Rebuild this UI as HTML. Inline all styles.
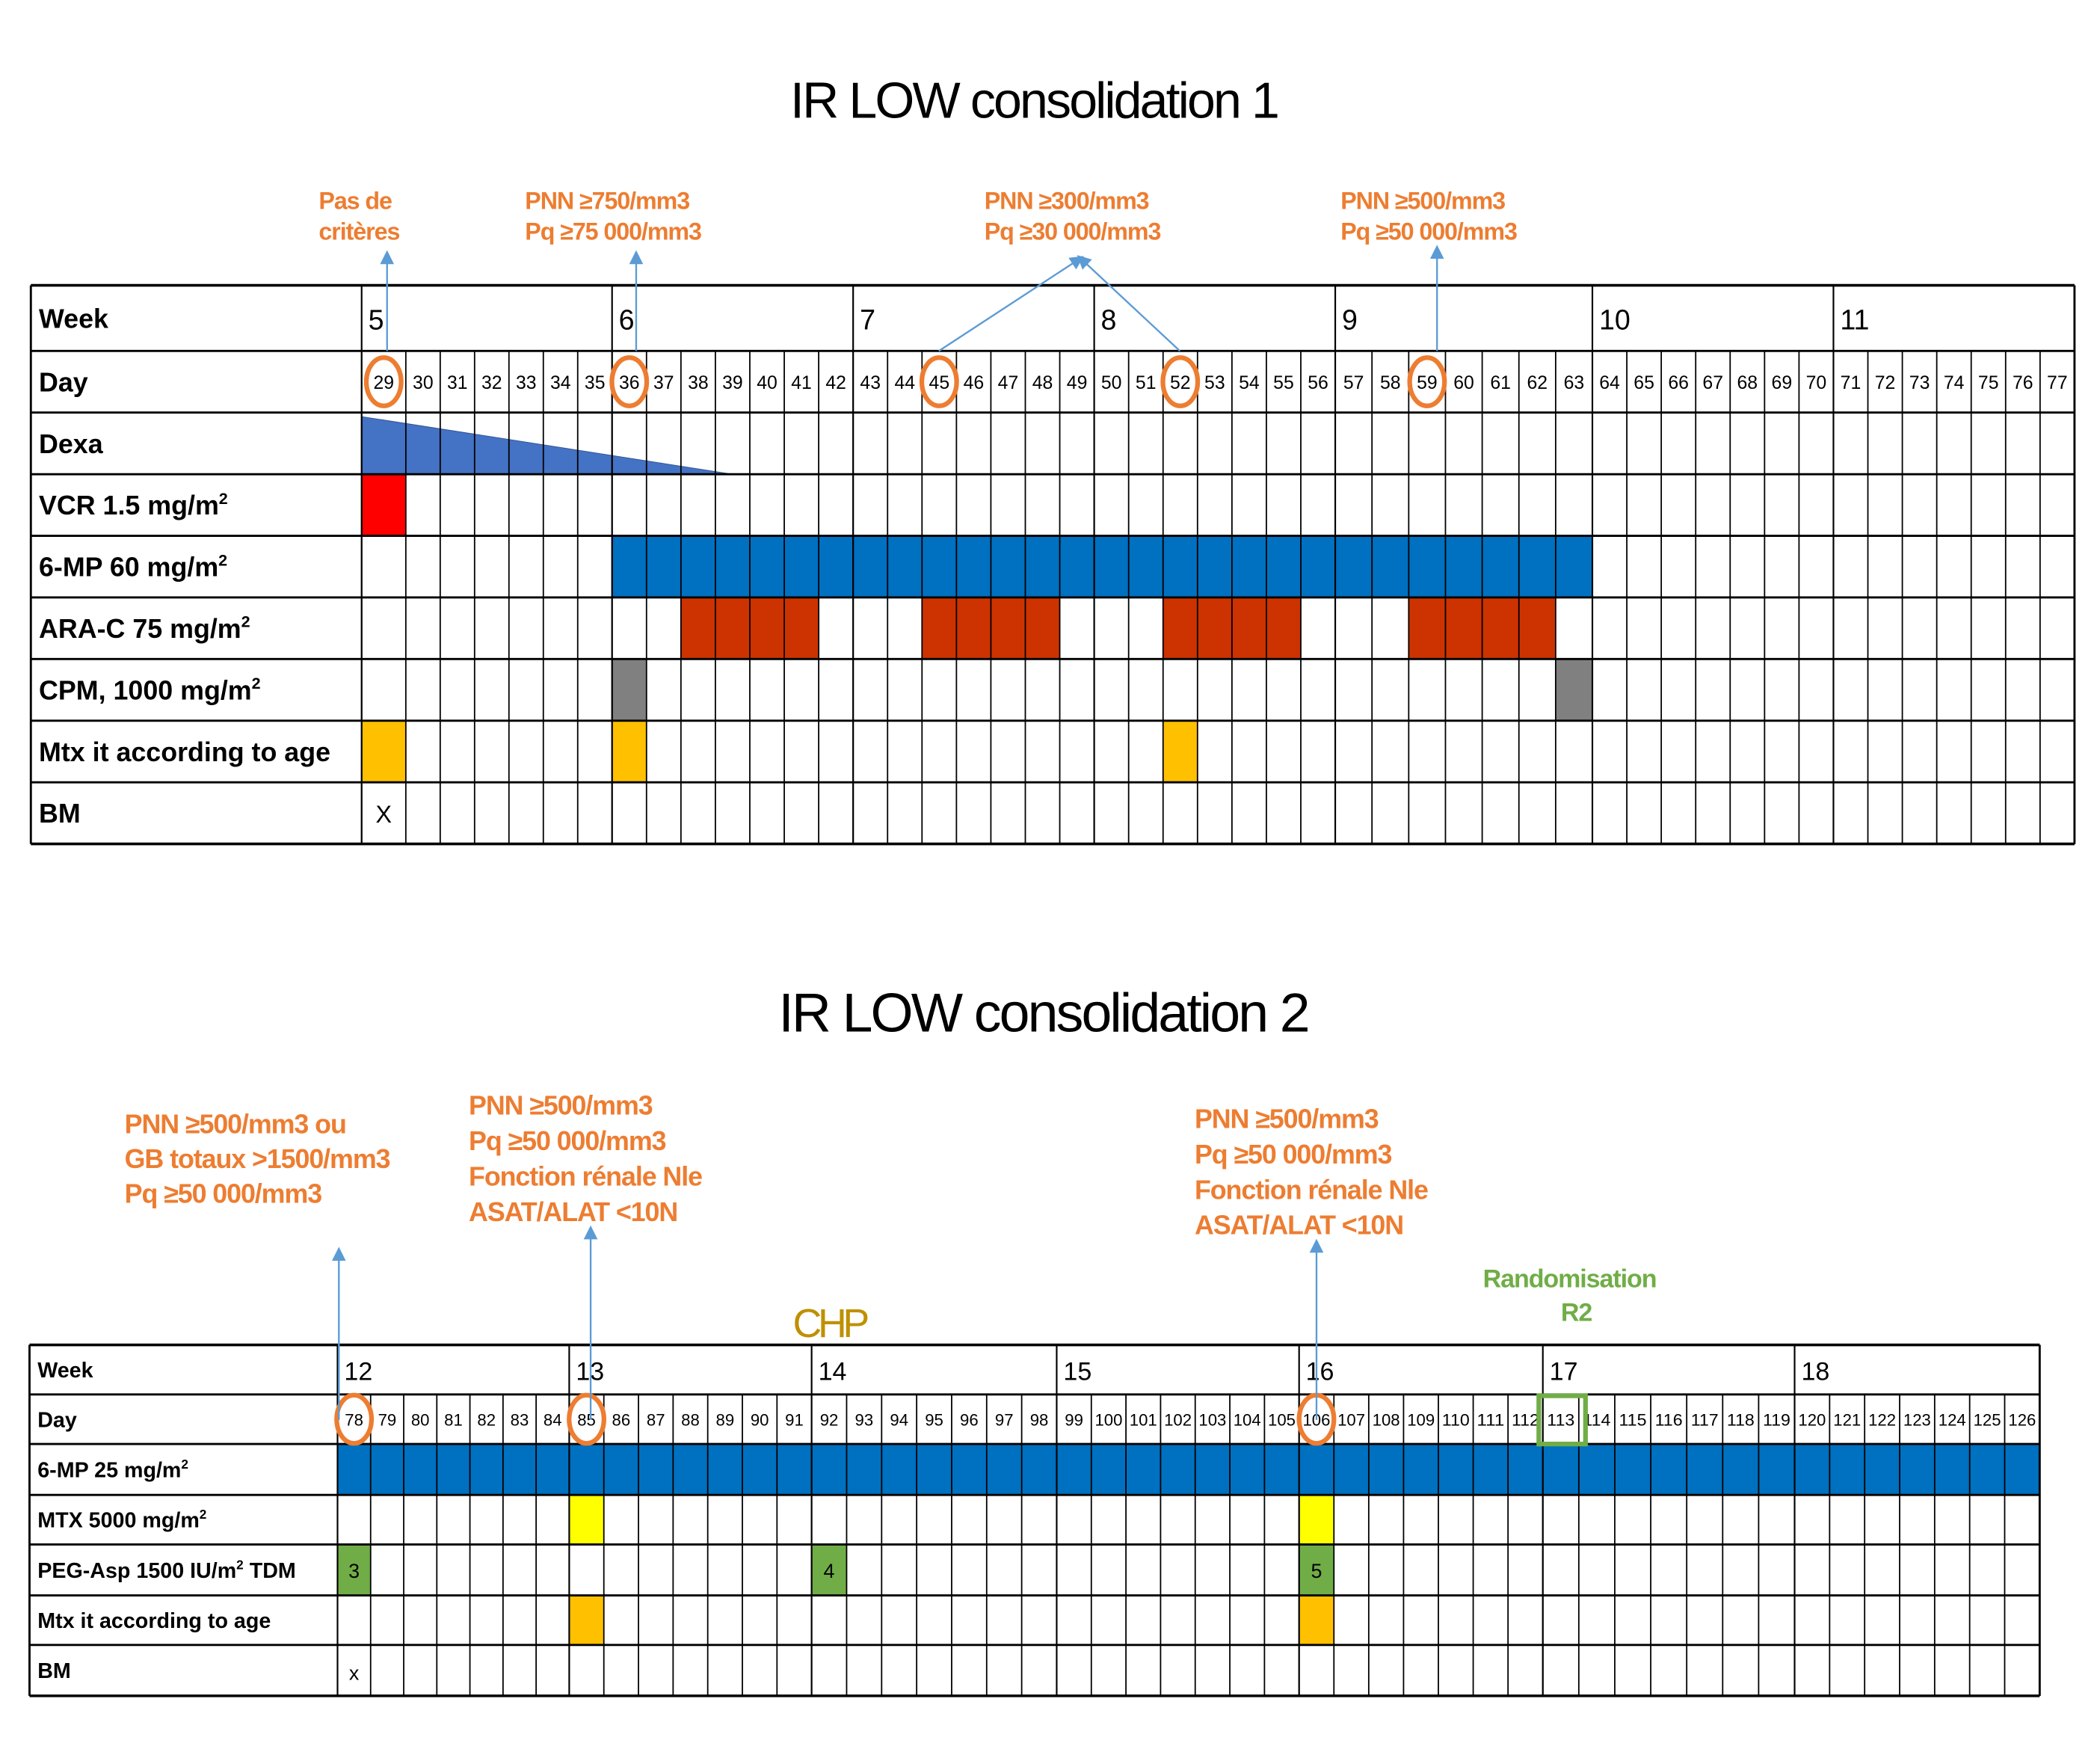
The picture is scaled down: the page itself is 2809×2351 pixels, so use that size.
<!DOCTYPE html>
<html><head><meta charset="utf-8"><style>
html,body{margin:0;padding:0;background:#fff;}
svg{display:block;}
text{font-family:"Liberation Sans",sans-serif;}
</style></head>
<body>
<svg id="c" xmlns="http://www.w3.org/2000/svg" width="2809" height="2351" viewBox="0 0 1568 1312.4">
<rect width="1568" height="1313" fill="#fff"/>
<text x="772" y="88" font-size="38" text-anchor="middle" letter-spacing="-1.6">IR LOW consolidation 1</text>
<text x="779" y="770" font-size="41" text-anchor="middle" letter-spacing="-1.6">IR LOW consolidation 2</text>
<g id="g1"></g><g id="g2"></g><g id="ann"></g>
</svg>
<script>
// ---- Table 1 data ----
const t1Weeks=[5,6,7,8,9,10,11];
const t1FirstDay=29;
const t1Rows=["Week","Day","Dexa","VCR 1.5 mg/m²","6-MP 60 mg/m²","ARA-C 75 mg/m²","CPM, 1000 mg/m²","Mtx it according to age","BM"];
const t1VCR=[29];
const t1MP=[36,63];
const t1ARAC=[38,39,40,41,45,46,47,48,52,53,54,55,59,60,61,62];
const t1CPM=[36,63];
const t1Mtx=[29,36,52];
const t1BM=[29];
const t1Dexa=[29,39.5];
const t1Circles=[29,36,45,52,59];
// ---- Table 2 data ----
const t2Weeks=[12,13,14,15,16,17,18];
const t2FirstDay=78;
const t2Rows=["Week","Day","6-MP 25 mg/m²","MTX 5000 mg/m²","PEG-Asp 1500 IU/m² TDM","Mtx it according to age","BM"];
const t2MP=[78,126];
const t2MTX=[85,106];
const t2PEGdays=[78,92,106];
const t2PEGlabels=["3","4","5"];
const t2Mtx=[85,106];
const t2BM=[78];
const t2Circles=[78,85,106];
const t2Random=[113];

const NS="http://www.w3.org/2000/svg";
function el(tag,attrs,parent,txt){const e=document.createElementNS(NS,tag);for(const k in attrs)e.setAttribute(k,attrs[k]);if(txt!==undefined)e.textContent=txt;parent.appendChild(e);return e;}

function buildTable(g,cfg){
  const weekX=cfg.weekX;
  const dayX=[];
  for(let w=0;w<weekX.length-1;w++){
    const a=weekX[w],b=weekX[w+1];
    if(w===0&&cfg.firstW){dayX.push(a);for(let d=0;d<6;d++)dayX.push(a+cfg.firstW+(b-a-cfg.firstW)*d/6);}
    else for(let d=0;d<7;d++)dayX.push(a+(b-a)*d/7);
  }
  dayX.push(weekX[weekX.length-1]);
  const X=day=>dayX[day-cfg.first];
  const Y=r=>cfg.rowY[r];
  cfg.X=X;cfg.Y=Y;
  cfg.fills.forEach(f=>{
    f.days.forEach(d=>{
      const r=el('rect',{x:X(d),y:Y(f.row),width:X(d+1)-X(d),height:Y(f.row+1)-Y(f.row),fill:f.color},g);
      
      
    });
    if(f.range){const [a,b]=f.range;
      const r=el('rect',{x:X(a),y:Y(f.row),width:X(b+1)-X(a),height:Y(f.row+1)-Y(f.row),fill:f.color},g);
      
      }
  });
  if(cfg.tri){const [a,b]=cfg.tri;const y0=Y(2)+3,y1=Y(3);
    const p=el('polygon',{points:`${X(a)},${y0} ${X(a)},${y1} ${X(Math.floor(b))+(X(Math.floor(b)+1)-X(Math.floor(b)))*(b%1)},${y1}`,fill:'#4472C4',stroke:'#2F528F','stroke-width':0.5},g);
    
    }
  const L=cfg.left,R=weekX[weekX.length-1],T=Y(0),B=Y(cfg.rows.length);
  for(let i=0;i<=cfg.rows.length;i++)el('line',{x1:L,x2:R,y1:Y(i),y2:Y(i),stroke:'#000','stroke-width':(i==0||i==cfg.rows.length)?2:1.6},g);
  el('line',{x1:L,x2:L,y1:T,y2:B,stroke:'#000','stroke-width':1.6},g);
  el('line',{x1:R,x2:R,y1:T,y2:B,stroke:'#000','stroke-width':1.6},g);
  weekX.forEach(x=>el('line',{x1:x,x2:x,y1:T,y2:B,stroke:'#000','stroke-width':1.2},g));
  dayX.forEach(x=>el('line',{x1:x,x2:x,y1:Y(1),y2:B,stroke:'#000','stroke-width':1},g));
  cfg.rows.forEach((lab,i)=>{
    const m=lab.match(/^(.*)²(.*)$/);
    const t=el('text',{x:L+6,y:(Y(i)+Y(i+1))/2+cfg.lfs*0.36,'font-size':cfg.lfs,'font-weight':'bold'},g);
    
    
    if(m){t.appendChild(document.createTextNode(m[1]));el('tspan',{'font-size':cfg.lfs*0.6,dy:-cfg.lfs*0.4},t,'2');if(m[2])el('tspan',{dy:cfg.lfs*0.4},t,m[2]);}
    else t.textContent=lab;
  });
  cfg.weeks.forEach((w,i)=>{const t=el('text',{x:weekX[i]+5,y:(Y(0)+Y(1))/2+cfg.wfs*0.4,'font-size':cfg.wfs},g,String(w));
    });
  for(let d=cfg.first;d<cfg.first+dayX.length-1;d++){
    const t=el('text',{x:(X(d)+X(d+1))/2,y:(Y(1)+Y(2))/2+cfg.dfs*0.38,'font-size':cfg.dfs,'text-anchor':'middle',textLength:Math.min(cfg.dfs*(String(d).length*0.55),X(d+1)-X(d)-1),lengthAdjust:'spacingAndGlyphs'},g,String(d));
    
  }
  cfg.circles.forEach(d=>{const c=el('ellipse',{cx:(X(d)+X(d+1))/2,cy:(Y(1)+Y(2))/2,rx:13,ry:18,fill:'none',stroke:'#ED7D31','stroke-width':3.5},g);
    });
}

const g1=document.getElementById('g1'),g2=document.getElementById('g2');
const c1={left:23,weekX:[270,457,637,817,997,1189,1369,1549],firstW:33,first:t1FirstDay,weeks:t1Weeks,rows:t1Rows,
  rowY:[213,262,308,354,400,446,492,538,584,630],lfs:20,wfs:21,dfs:14,circles:t1Circles,tri:t1Dexa,
  fills:[{row:3,days:t1VCR,color:'#FF0000',name:'vcr'},{row:4,days:[],range:t1MP,color:'#0070C0',name:'6mp'},
   {row:5,days:t1ARAC,color:'#CC3300',name:'arac'},{row:6,days:t1CPM,color:'#808080',name:'cpm'},{row:7,days:t1Mtx,color:'#FFC000',name:'mtx-it'}]};
buildTable(g1,c1);
t1BM.forEach(d=>{const t=el('text',{x:(c1.X(d)+c1.X(d+1))/2,y:614,'font-size':18,'text-anchor':'middle'},g1,'X');});

const c2={left:22,weekX:[252,425,606,789,970,1152,1340,1523],first:t2FirstDay,weeks:t2Weeks,rows:t2Rows,
  rowY:[1004,1041,1078,1116,1153,1191,1228,1266],lfs:16,wfs:19,dfs:12.5,circles:t2Circles,
  fills:[{row:2,days:[],range:t2MP,color:'#0070C0',name:'6mp'},{row:3,days:t2MTX,color:'#FFFF00',name:'mtx-hd'},
   {row:4,days:t2PEGdays,color:'#70AD47',name:'peg-asp'},{row:5,days:t2Mtx,color:'#FFC000',name:'mtx-it'}]};
buildTable(g2,c2);
t2PEGdays.forEach((d,i)=>{const t=el('text',{x:(c2.X(d)+c2.X(d+1))/2,y:1178,'font-size':15,'text-anchor':'middle'},g2,t2PEGlabels[i]);});
t2BM.forEach(d=>{const t=el('text',{x:(c2.X(d)+c2.X(d+1))/2,y:1254,'font-size':15,'text-anchor':'middle'},g2,'x');});
t2Random.forEach(d=>{const r=el('rect',{x:c2.X(d)-3,y:1042,width:c2.X(d+1)-c2.X(d)+8,height:36,fill:'none',stroke:'#70AD47','stroke-width':3.5},g2);});

const ann=document.getElementById('ann');
el('defs',{},ann).innerHTML='<marker id="ah" markerWidth="8" markerHeight="8" refX="4" refY="4" orient="auto"><path d="M0,0 L8,4 L0,8 z" fill="#5B9BD5"/></marker>';
function arrow(x1,y1,x2,y2){el('line',{x1,y1,x2,y2,stroke:'#5B9BD5','stroke-width':1.3,'marker-end':'url(#ah)'},ann);}
function txt(lines,x,y,lh,fs,col,anchor){lines.forEach((s,i)=>{const t=el('text',{x,y:y+i*lh,'font-size':fs,'font-weight':'bold',fill:col,'text-anchor':anchor||'start','letter-spacing':-0.6},ann,s);});}
const OR='#ED7D31';
txt(['Pas de','critères'],238,156,23,18,OR);
txt(['PNN ≥750/mm3','Pq ≥75 000/mm3'],392,156,23,18,OR);
txt(['PNN ≥300/mm3','Pq ≥30 000/mm3'],735,156,23,18,OR);
txt(['PNN ≥500/mm3','Pq ≥50 000/mm3'],1001,156,23,18,OR);
arrow(289,262,289,192);arrow(475,262,475,192);arrow(701,262,805,194);arrow(881,262,808,194);arrow(1073,262,1073,188);
txt(['PNN ≥500/mm3 ou','GB totaux >1500/mm3','Pq ≥50 000/mm3'],93,846,26,20,OR);
txt(['  PNN ≥500/mm3','Pq ≥50 000/mm3','Fonction rénale Nle','ASAT/ALAT <10N'],350,832,26.5,20,OR);
txt(['  PNN ≥500/mm3','Pq ≥50 000/mm3','Fonction rénale Nle','ASAT/ALAT <10N'],892,842,26.5,20,OR);
arrow(253,1060,253,936);arrow(441,1060,441,920);arrow(983,1060,983,930);
txt(['Randomisation'],1172,961,25,19,'#70AD47','middle');
txt(['R2'],1177,986,25,19,'#70AD47','middle');
const chp=el('text',{x:592,y:998,'font-size':30,fill:'#BF9000','letter-spacing':-3},ann,'CHP');
</script>
</body></html>
